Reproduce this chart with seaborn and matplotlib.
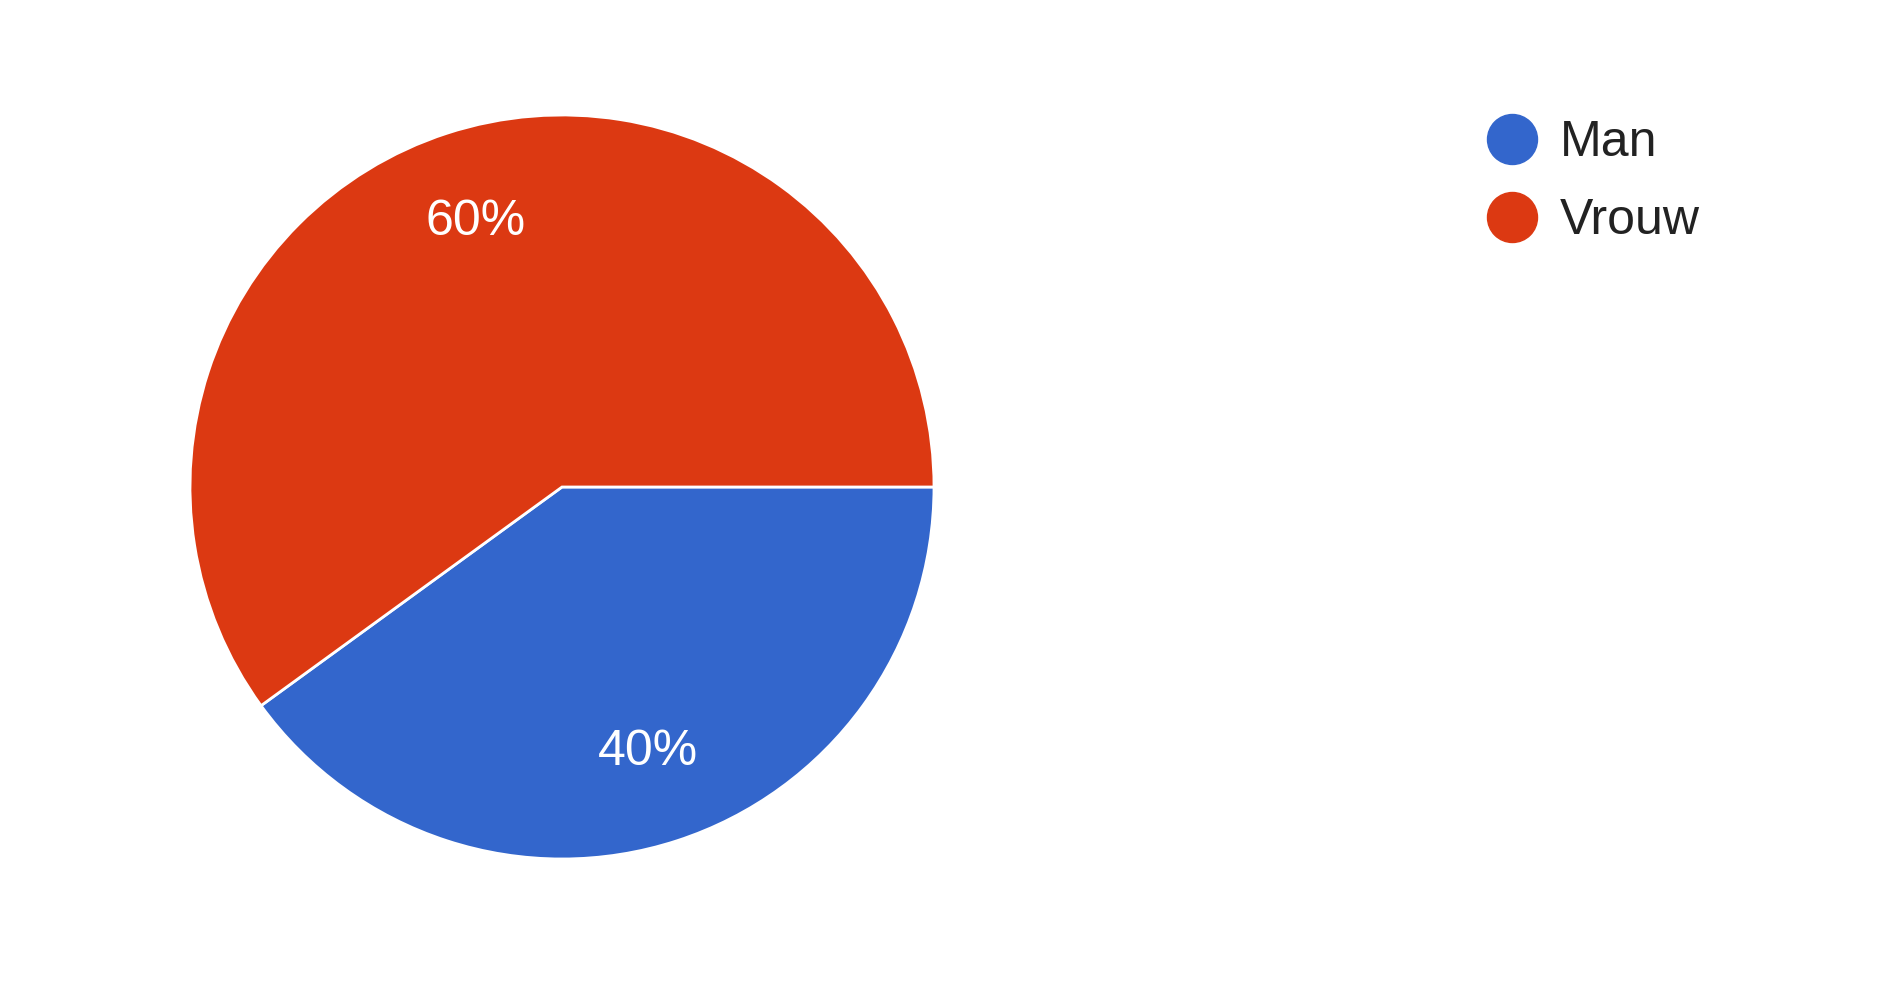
import matplotlib
matplotlib.use("Agg")
import matplotlib.pyplot as plt
from matplotlib.lines import Line2D
import seaborn as sns

labels = ["Man", "Vrouw"]
values = [40, 60]
colors = ["#3366CC", "#DC3912"]

sns.set_theme(style="white")
plt.rcParams["font.family"] = ["Liberation Sans", "DejaVu Sans"]

fig = plt.figure(figsize=(18.92, 10.01), dpi=100)
ax = fig.add_axes([190 / 1892, 142 / 1001, 744 / 1892, 744 / 1001])

wedges, texts, autotexts = ax.pie(values, colors=colors, startangle=0, counterclock=False,
                                  autopct="%1.0f%%", pctdistance=0.75,
                                  wedgeprops=dict(edgecolor="white", linewidth=2),
                                  textprops=dict(color="white", fontsize=36))
ax.set_xlim(-1, 1)
ax.set_ylim(-1, 1)
ax.set_aspect("equal")
ax.axis("off")

# legend with round markers, like the forms chart
handles = [Line2D([0], [0], marker="o", linestyle="", markersize=36,
                  markerfacecolor=c, markeredgecolor=c) for c in colors]
fig.legend(handles, labels, loc="upper left", bbox_to_anchor=(1487 / 1892, 1 - 120 / 1001),
           frameon=False, fontsize=36, handlelength=1.0, handletextpad=0.46,
           labelspacing=0.64, borderpad=0, borderaxespad=0, labelcolor="#222222")

fig.savefig("out.png", dpi=100, facecolor="white")
